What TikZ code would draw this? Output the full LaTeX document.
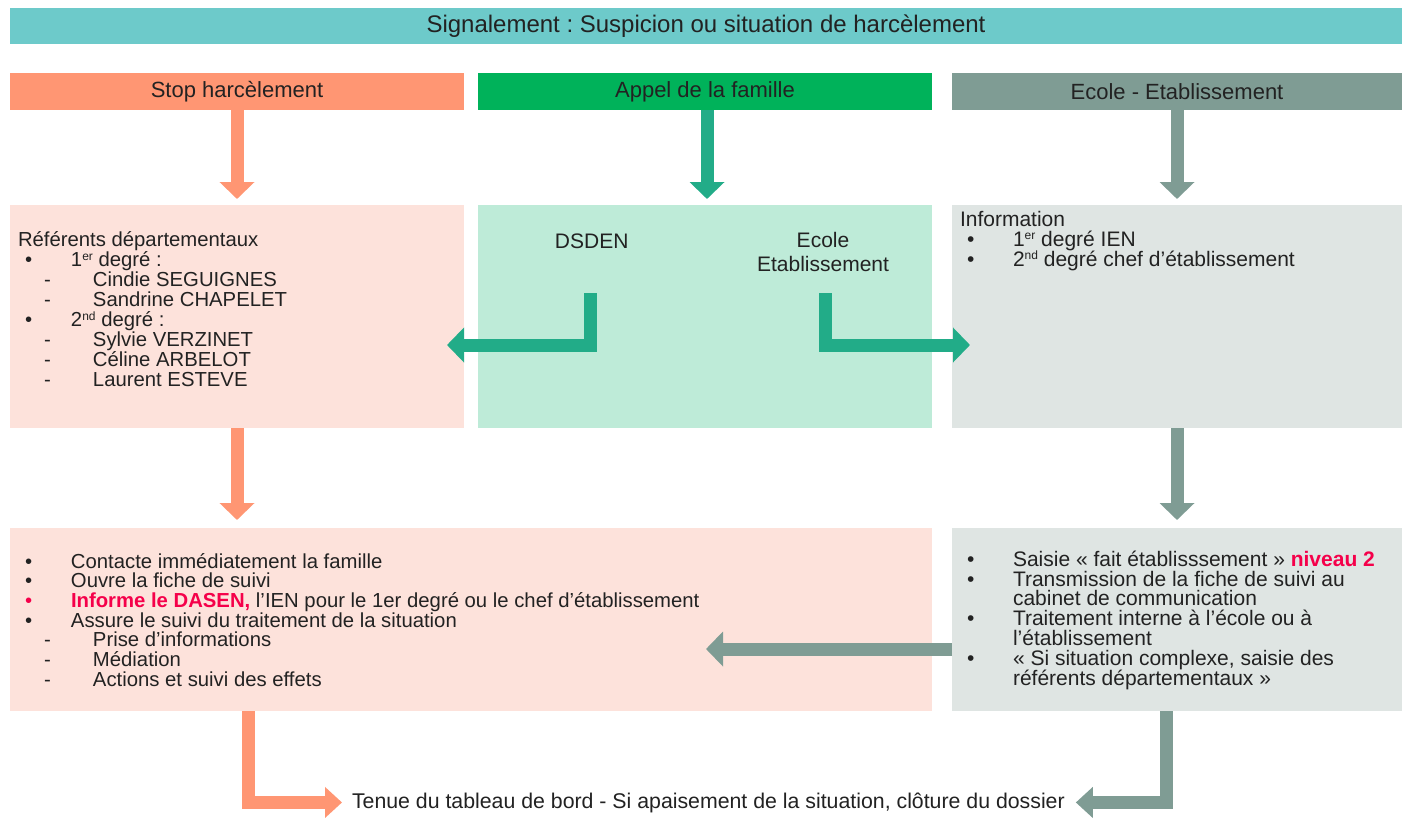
\documentclass[tikz,border=0pt]{standalone}
\usepackage{fontspec}
\setmainfont{Liberation Sans}
\usetikzlibrary{arrows.meta}
\definecolor{bannerc}{HTML}{6DCACA}
\definecolor{salmonc}{HTML}{FF9673}
\definecolor{greenc}{HTML}{00B25A}
\definecolor{tealc}{HTML}{22AC88}
\definecolor{greyc}{HTML}{7F9C94}
\definecolor{lsalmon}{HTML}{FDE2DB}
\definecolor{lgreen}{HTML}{BEEBD8}
\definecolor{lgrey}{HTML}{DFE5E3}
\definecolor{redc}{HTML}{F5004A}
\definecolor{txtc}{HTML}{222222}
\newcommand{\bul}{\hspace*{7pt}\makebox[46pt][l]{•}}
\newcommand{\dsh}{\hspace*{26pt}\makebox[49pt][l]{-}}
\newcommand{\supx}[1]{\raisebox{6.5pt}{\fontsize{12}{12}\selectfont #1}}
\frenchspacing
\begin{document}
\begin{tikzpicture}[x=1pt,y=-1pt,
  panel/.style={inner sep=0pt, outer sep=0pt, anchor=north west, draw=none},
  hdr/.style={inner sep=0pt, outer sep=0pt, anchor=north west, draw=none, text=txtc, font=\fontsize{22}{24}\selectfont},
  txt/.style={inner sep=0pt, outer sep=0pt, anchor=base west, align=left, text=txtc, font=\fontsize{21}{20}\selectfont},
  txtn/.style={txt, font=\fontsize{20.3}{20}\selectfont},
  txtb/.style={txt, font=\fontsize{20.3}{19.7}\selectfont},
  txtc/.style={txt, font=\fontsize{21}{19.7}\selectfont},
  arr/.style={line width=13pt, line join=miter, -{Triangle[width=34pt,length=17pt]}},
  arrb/.style={line width=13pt, line join=miter, -{Triangle[width=30pt,length=17pt]}}
]
\useasboundingbox (0,0) rectangle (1402,817);
\fill[white] (0,0) rectangle (1402,817);

% banner
\node[hdr, fill=bannerc, minimum width=1392pt, minimum height=36pt, font=\fontsize{24}{26}\selectfont] (banner) at (10,8) {Signalement : Suspicion ou situation de harcèlement};

% headers
\node[hdr, fill=salmonc, minimum width=454pt, minimum height=37pt] (h1) at (10,73) {Stop harcèlement};
\node[hdr, fill=greenc, minimum width=454pt, minimum height=37pt] (h2) at (478,73) {Appel de la famille};
\node[hdr, fill=greyc, minimum width=450pt, minimum height=37pt] (h3) at (952,73) {Ecole - Etablissement};

% middle panels
\node[panel, fill=lsalmon, minimum width=454pt, minimum height=223pt] (m1) at (10,205) {};
\node[panel, fill=lgreen, minimum width=454pt, minimum height=223pt] (m2) at (478,205) {};
\node[panel, fill=lgrey, minimum width=450pt, minimum height=223pt] (m3) at (952,205) {};

% bottom panels
\node[panel, fill=lsalmon, minimum width=922pt, minimum height=183pt] (b1) at (10,528) {};
\node[panel, fill=lgrey, minimum width=450pt, minimum height=183pt] (b2) at (952,528) {};

% texts (anchor = baseline of last line)
\node[txtn] (t1) at (18,386.7) {Référents départementaux\\
\bul 1\supx{er} degré :\\
\dsh Cindie SEGUIGNES\\
\dsh Sandrine CHAPELET\\
\bul 2\supx{nd} degré :\\
\dsh Sylvie VERZINET\\
\dsh Céline ARBELOT\\
\dsh Laurent ESTEVE};

\node[txt, anchor=base] (dsden) at (591.7,248.3) {DSDEN};
\node[txt, anchor=base, align=center, font=\fontsize{21}{24.4}\selectfont] (ecole) at (823,271.7) {Ecole\\Etablissement};

\node[txt] (t3) at (960,266) {Information\\
\bul 1\supx{er} degré IEN\\
\bul 2\supx{nd} degré chef d’établissement};

\node[txtb] (t4) at (18,686.2) {\bul Contacte immédiatement la famille\\
\bul Ouvre la fiche de suivi\\
{\color{redc}\bul\textbf{Informe le DASEN,}} l’IEN pour le 1er degré ou le chef d’établissement\\
\bul Assure le suivi du traitement de la situation\\
\dsh Prise d’informations\\
\dsh Médiation\\
\dsh Actions et suivi des effets};

\node[txtc] (t5) at (960,685.9) {\bul Saisie « fait établisssement » {\color{redc}\textbf{niveau 2}}\\
\bul Transmission de la fiche de suivi au\\
\hspace*{53pt}cabinet de communication\\
\bul Traitement interne à l’école ou à\\
\hspace*{53pt}l’établissement\\
\bul « Si situation complexe, saisie des\\
\hspace*{53pt}référents départementaux »};

\node[txt, font=\fontsize{21.3}{22}\selectfont] (fin) at (352,808) {Tenue du tableau de bord - Si apaisement de la situation, clôture du dossier};

% coordinates for free ends
\coordinate (d1) at (590,293);
\coordinate (d1t) at (447,345);
\coordinate (e1) at (825,293);
\coordinate (e1t) at (970,345);
\coordinate (g1t) at (706,649);
\coordinate (s1) at (248.5,711);
\coordinate (s2) at (1166.5,711);

% arrows
\draw[arr, salmonc, shorten >=6pt] (h1.south) -- (m1.north);
\draw[arr, tealc, shorten >=6pt] ([xshift=2pt]h2.south) -- ([xshift=2pt]m2.north);
\draw[arr, greyc, shorten >=6pt] (h3.south) -- (m3.north);

\draw[arr, tealc] (d1) |- (d1t);
\draw[arr, tealc] (e1) |- (e1t);

\draw[arr, salmonc, shorten >=8pt] (m1.south) -- (m1.south |- b1.north);
\draw[arr, greyc, shorten >=8pt] (m3.south) -- (b2.north);

\draw[arr, greyc] ([yshift=-29.5pt]b2.west) -- (g1t);

\draw[arrb, salmonc, shorten >=10pt] (s1) |- (fin.west);
\draw[arrb, greyc, shorten >=11pt] (s2) |- (fin.east);
\end{tikzpicture}
\end{document}
